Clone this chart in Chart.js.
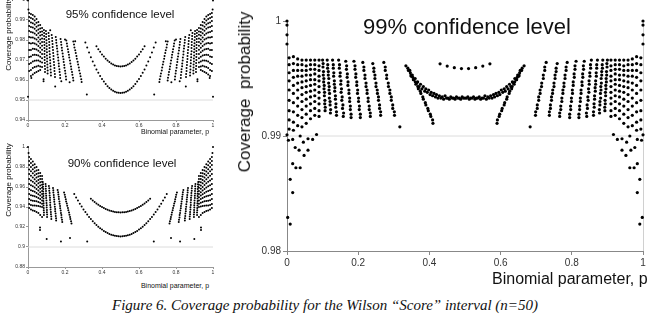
<!DOCTYPE html>
<html>
<head>
<meta charset="utf-8">
<script src="https://cdn.jsdelivr.net/npm/chart.js@4.4.1/dist/chart.umd.min.js"></script>
<style>
  body { margin: 0; background: #fff; }
  #page { position: relative; width: 649px; height: 318px; overflow: hidden; font-family: "Liberation Sans", Arial, sans-serif; color: #111; }
  canvas { position: absolute; }
  .lbl { position: absolute; white-space: nowrap; transform: translate(-50%, -50%); color: #111; }
  .lft { transform: translate(0, -50%); }
  .rot { transform: translate(-50%, -50%) rotate(-90deg); }
  .cap { font-family: "Liberation Serif", "Times New Roman", serif; font-style: italic; }
</style>
</head>
<body>
<div id="page">
  <canvas id="c95" width="218" height="138" style="left:0;top:-6px"></canvas>
  <canvas id="c90" width="218" height="140" style="left:0;top:141px"></canvas>
  <canvas id="c99" width="421" height="275" style="left:228px;top:0"></canvas>

  <div class="lbl" style="left:120px;top:14px;font-size:11.5px">95% confidence level</div>
  <div class="lbl" style="left:122px;top:163px;font-size:11.5px">90% confidence level</div>
  <div class="lbl" style="left:467px;top:27px;font-size:22px">99% confidence level</div>

  <div class="lbl rot" style="left:8px;top:34px;font-size:8px">Coverage probability</div>
  <div class="lbl rot" style="left:8px;top:180px;font-size:8px">Coverage probability</div>
  <div class="lbl rot" style="left:245px;top:92px;font-size:17px">Coverage&nbsp; probability</div>

  <div class="lbl" style="left:175px;top:131px;font-size:7px">Binomial parameter, p</div>
  <div class="lbl" style="left:175px;top:285px;font-size:7px">Binomial parameter, p</div>
  <div class="lbl lft" style="left:492px;top:279px;font-size:16px">Binomial parameter, p</div>

  <div class="lbl cap" style="left:325px;top:305px;font-size:15px">Figure 6. Coverage probability for the Wilson “Score” interval (n=50)</div>
</div>

<script>
// ---------- 99% confidence level ----------
const nominal99 = 0.99;
const edge99L = [[0,1],[0,.99965],[0,.9988],[0,.998],[0,.9901],[.002,.98292],[.009,.98234],[.009,.98623],[.016,.98508],[.016,.98759],[.025,.98724],[.037,.98724],[.004,.98963],[.016,.9897],[.023,.989],[.034,.98877],[.046,.98946],[.048,.98831],[.059,.98877],[.059,.98976],[.072,.9897],[.083,.99013],[.037,.99]];
const edge99R = [[1,1],[1,.99965],[1,.9988],[1,.998],[1,.9901],[.998,.98292],[.991,.98234],[.991,.98623],[.984,.98508],[.984,.98759],[.975,.98724],[.963,.98724],[.996,.98963],[.984,.9897],[.977,.989],[.966,.98877],[.954,.98946],[.952,.98831],[.941,.98877],[.941,.98976],[.928,.9897],[.917,.99013],[.963,.99]];

const cloudP99L = [.006,.018,.030,.042,.054,.066,.078,.090];
const cloudP99R = [.994,.982,.970,.958,.946,.934,.922,.910];
const cloudC99 = [
  [.9968,.9962,.9955,.9948,.9940,.9931,.9922,.9914,.9906],
  [.9969,.9963,.9957,.9951,.9944,.9937,.9929,.9921,.9912,.9905],
  [.9967,.9962,.9957,.9952,.9946,.9940,.9933,.9926,.9918,.9909],
  [.9966,.9962,.9957,.9952,.9947,.9942,.9936,.9930,.9923,.9916,.9908],
  [.9966,.9961,.9957,.9953,.9948,.9943,.9938,.9932,.9926,.9919,.9911],
  [.9966,.9962,.9958,.9953,.9949,.9944,.9939,.9934,.9928,.9922,.9915],
  [.9966,.9962,.9958,.9954,.9949,.9945,.9940,.9935,.9930,.9924,.9918],
  [.9966,.9961,.9957,.9952,.9948,.9943,.9938,.9933,.9928,.9922,.9917]
];

const strP99L = [
  .100,.101,.102,.103,.104,.105,.106,.107,
  .113,.114,.116,.117,.118,.119,.121,.122,
  .128,.130,.131,.133,.134,.136,.137,.139,
  .145,.147,.149,.151,.152,.154,.156,.158,
  .165,.167,.169,.171,.174,.176,.178,.180,
  .188,.191,.193,.196,.198,.201,.203,.206,
  .213,.216,.219,.222,.225,.228,.231,.234,
  .241,.244,.247,.250,.254,.257,.260,.263,
  .272,.276,.280,.285,.289,.293,.297,.302,.317,
  .334,.341,.348,.355,.362,.369,.376,.383,.390,.397,.404,.410
];
const strP99R = [
  .900,.899,.898,.897,.896,.895,.894,.893,
  .887,.886,.884,.883,.882,.881,.879,.878,
  .872,.870,.869,.867,.866,.864,.863,.861,
  .855,.853,.851,.849,.848,.846,.844,.842,
  .835,.833,.831,.829,.826,.824,.822,.820,
  .812,.809,.807,.804,.802,.799,.797,.794,
  .787,.784,.781,.778,.775,.772,.769,.766,
  .759,.756,.753,.750,.746,.743,.740,.737,
  .728,.724,.720,.715,.711,.707,.703,.698,.683,
  .666,.659,.652,.645,.638,.631,.624,.617,.610,.603,.596,.590
];
const strC99 = [
  .9966,.9960,.9953,.9947,.9941,.9935,.9928,.9922,
  .9966,.9959,.9953,.9946,.9940,.9933,.9927,.9920,
  .9966,.9959,.9952,.9945,.9939,.9932,.9925,.9918,
  .9966,.9959,.9952,.9945,.9938,.9931,.9924,.9917,
  .9965,.9958,.9951,.9944,.9937,.9930,.9923,.9916,
  .9965,.9958,.9951,.9944,.9937,.9930,.9923,.9916,
  .9964,.9957,.9950,.9943,.9937,.9930,.9923,.9917,
  .9963,.9956,.9950,.9943,.9937,.9931,.9924,.9918,
  .9964,.9957,.9950,.9943,.9937,.9931,.9924,.9918,.9908,
  .9961,.9957,.9953,.9949,.9945,.9941,.9937,.9932,.9927,.9922,.9917,.9911
];
// second row of dots that thickens each streak
const strBP99L = [
  .1015,.1025,.1035,.1045,.1055,.1065,.1075,
  .1145,.1160,.1175,.1185,.1195,.1210,.1225,
  .1300,.1315,.1330,.1345,.1360,.1375,.1390,
  .1475,.1495,.1515,.1530,.1550,.1570,.1590,
  .1675,.1695,.1715,.1740,.1760,.1780,.1800,
  .1910,.1935,.1960,.1985,.2010,.2035,.2060,
  .2160,.2190,.2220,.2250,.2280,.2310,.2340,
  .2440,.2470,.2500,.2535,.2570,.2600,.2630,
  .2760,.2800,.2845,.2890,.2930,.2970,.3015,
  .3395,.3465,.3535,.3605,.3675,.3745,.3815,.3885,.3955,.4025,.4090
];
const strBP99R = [
  .8985,.8975,.8965,.8955,.8945,.8935,.8925,
  .8855,.8840,.8825,.8815,.8805,.8790,.8775,
  .8700,.8685,.8670,.8655,.8640,.8625,.8610,
  .8525,.8505,.8485,.8470,.8450,.8430,.8410,
  .8325,.8305,.8285,.8260,.8240,.8220,.8200,
  .8090,.8065,.8040,.8015,.7990,.7965,.7940,
  .7840,.7810,.7780,.7750,.7720,.7690,.7660,
  .7560,.7530,.7500,.7465,.7430,.7400,.7370,
  .7240,.7200,.7155,.7110,.7070,.7030,.6985,
  .6605,.6535,.6465,.6395,.6325,.6255,.6185,.6115,.6045,.5975,.5910
];
const strBC99 = [
  .9963,.9956,.9950,.9944,.9938,.9931,.9925,
  .9962,.9956,.9950,.9943,.9937,.9930,.9923,
  .9962,.9955,.9948,.9942,.9935,.9928,.9921,
  .9962,.9955,.9948,.9941,.9934,.9927,.9920,
  .9961,.9954,.9947,.9940,.9933,.9926,.9919,
  .9961,.9954,.9947,.9940,.9933,.9926,.9919,
  .9960,.9953,.9946,.9940,.9933,.9926,.9920,
  .9959,.9953,.9946,.9940,.9934,.9927,.9921,
  .9960,.9953,.9946,.9940,.9934,.9927,.9921,
  .9959,.9955,.9951,.9947,.9943,.9939,.9934,.9929,.9924,.9919,.9914
];

const midP99 = [.345,.352,.360,.367,.375,.383,.390,.398,.405,.413,.420,.428,.436,.444,.452,.460,.468,.476,.484,.492,.500,.508,.516,.524,.532,.540,.548,.556,.564,.572,.580,.587,.595,.602,.610,.617,.625,.633,.640,.648,.655];
const midC99 = [.9957,.9953,.9950,.9947,.9945,.9943,.9941,.9940,.9938,.9937,.9936,.9935,.9934,.9935,.9933,.9934,.9933,.9934,.9933,.9934,.9933,.9934,.9933,.9934,.9933,.9934,.9933,.9935,.9934,.9935,.9936,.9937,.9938,.9940,.9941,.9943,.9945,.9947,.9950,.9953,.9957];
const midBP99 = [.349,.356,.364,.371,.379,.387,.394,.402,.409,.417,.424,.432,.440,.448,.456,.464,.472,.480,.488,.496,.504,.512,.520,.528,.536,.544,.552,.560,.568,.576,.583,.591,.598,.606,.613,.621,.629,.636,.644,.651];
const midBC99 = [.9952,.9949,.9946,.9943,.9941,.9939,.9938,.9936,.9935,.9934,.9933,.9933,.9932,.9933,.9932,.9933,.9932,.9933,.9932,.9933,.9933,.9932,.9933,.9932,.9933,.9932,.9933,.9932,.9933,.9933,.9934,.9935,.9936,.9938,.9939,.9941,.9943,.9946,.9949,.9952];
const topP99 = [.43,.45,.47,.49,.51,.53,.55,.57];
const topC99 = [.99628,.99608,.99594,.99586,.99586,.99594,.99608,.99628];

// ---------- 95% confidence level ----------
const nominal95 = 0.95;
const edge95L = [[0,.9998],[.002,.9952],[0,.9516],[.018,.961],[.084,.9594],[.084,.9604],[.147,.9567],[.18,.9594],[.225,.9589],[.318,.9528],[.12,.9849],[.2,.9803],[.255,.9794]];
const edge95R = [[1,.9998],[.998,.9952],[1,.9516],[.982,.961],[.916,.9594],[.916,.9604],[.853,.9567],[.82,.9594],[.775,.9589],[.682,.9528],[.88,.9849],[.8,.9803],[.745,.9794]];
const cloudP95L = [.006,.016,.026,.036,.046,.056,.066,.076];
const cloudP95R = [.994,.984,.974,.964,.954,.944,.934,.924];
const cloudC95 = [
  [.9935,.9915,.9895,.9870,.9845,.9815,.9785,.9750,.9715,.9680,.9645],
  [.9930,.9910,.9888,.9865,.9840,.9812,.9782,.9750,.9718,.9685,.9650,.9620],
  [.9925,.9905,.9884,.9862,.9838,.9812,.9785,.9756,.9725,.9693,.9660,.9628],
  [.9918,.9898,.9878,.9856,.9833,.9808,.9782,.9755,.9726,.9696,.9665,.9635],
  [.9905,.9886,.9866,.9846,.9825,.9802,.9778,.9752,.9725,.9697,.9668,.9640],
  [.9890,.9872,.9853,.9834,.9813,.9792,.9770,.9746,.9722,.9697,.9671,.9645],
  [.9875,.9858,.9840,.9822,.9802,.9782,.9761,.9739,.9716,.9692,.9668,.9650],
  [.9860,.9843,.9826,.9808,.9790,.9771,.9751,.9730,.9709,.9687,.9665]
];
const strP95L = [
  .086,.087,.088,.089,.089,.090,.091,.092,
  .097,.098,.100,.101,.102,.103,.105,.106,
  .111,.113,.115,.116,.118,.120,.122,.124,
  .128,.131,.133,.136,.138,.141,.143,.146,
  .150,.153,.157,.160,.164,.167,.171,.174,
  .176,.180,.184,.189,.193,.197,.202,.206,
  .207,.212,.218,.223,.229,.234,.240,.245,
  .245,.251,.258,.264,.271,.277,.284,.290
];
const strP95R = [
  .914,.913,.912,.911,.911,.910,.909,.908,
  .903,.902,.900,.899,.898,.897,.895,.894,
  .889,.887,.885,.884,.882,.880,.878,.876,
  .872,.869,.867,.864,.862,.859,.857,.854,
  .850,.847,.843,.840,.836,.833,.829,.826,
  .824,.820,.816,.811,.807,.803,.798,.794,
  .793,.788,.782,.777,.771,.766,.760,.755,
  .755,.749,.742,.736,.729,.723,.716,.710
];
const strC95 = [
  .9850,.9820,.9790,.9760,.9730,.9700,.9670,.9640,
  .9845,.9815,.9784,.9754,.9723,.9693,.9662,.9632,
  .9835,.9805,.9775,.9744,.9714,.9684,.9653,.9622,
  .9825,.9795,.9765,.9735,.9705,.9675,.9645,.9615,
  .9815,.9786,.9757,.9727,.9698,.9669,.9640,.9610,
  .9805,.9776,.9747,.9718,.9690,.9661,.9632,.9603,
  .9798,.9769,.9740,.9712,.9683,.9654,.9626,.9597,
  .9792,.9763,.9735,.9706,.9677,.9648,.9619,.9590
];
const strBP95L = [
  .0873,.0883,.0893,.0898,.0903,.0913,.0923,
  .0983,.0998,.1013,.1023,.1033,.1048,.1063,
  .1128,.1148,.1163,.1178,.1198,.1218,.1238,
  .1303,.1328,.1353,.1378,.1403,.1428,.1453,
  .1523,.1558,.1593,.1628,.1663,.1698,.1733,
  .1788,.1828,.1873,.1918,.1958,.2003,.2048,
  .2103,.2158,.2213,.2268,.2323,.2378,.2433,
  .2488,.2553,.2618,.2683,.2748,.2813,.2878
];
const strBP95R = [
  .9127,.9117,.9107,.9102,.9097,.9087,.9077,
  .9017,.9002,.8987,.8977,.8967,.8952,.8937,
  .8872,.8852,.8837,.8822,.8802,.8782,.8762,
  .8697,.8672,.8647,.8622,.8597,.8572,.8547,
  .8477,.8442,.8407,.8372,.8337,.8302,.8267,
  .8212,.8172,.8127,.8082,.8042,.7997,.7952,
  .7897,.7842,.7787,.7732,.7677,.7622,.7567,
  .7512,.7447,.7382,.7317,.7252,.7187,.7122
];
const strBC95 = [
  .9835,.9805,.9775,.9745,.9715,.9685,.9655,
  .9830,.9799,.9769,.9739,.9708,.9678,.9647,
  .9820,.9790,.9760,.9729,.9699,.9669,.9638,
  .9810,.9780,.9750,.9720,.9690,.9660,.9630,
  .9800,.9771,.9742,.9712,.9683,.9654,.9625,
  .9790,.9761,.9732,.9704,.9675,.9646,.9617,
  .9783,.9754,.9726,.9697,.9668,.9640,.9611,
  .9777,.9749,.9720,.9691,.9662,.9633,.9604
];
const lowP95 = [.31,.32,.33,.34,.35,.36,.37,.38,.39,.40,.41,.42,.43,.44,.45,.46,.47,.48,.49,.50,.51,.52,.53,.54,.55,.56,.57,.58,.59,.60,.61,.62,.63,.64,.65,.66,.67,.68,.69];
const lowC95 = [.9788,.9762,.9737,.9714,.9693,.9672,.9653,.9636,.9620,.9605,.9592,.9580,.9569,.9560,.9553,.9546,.9541,.9538,.9536,.9535,.9536,.9538,.9541,.9546,.9553,.9560,.9569,.9580,.9592,.9605,.9620,.9636,.9653,.9672,.9693,.9714,.9737,.9762,.9788];
const upP95 = [.37,.38,.39,.40,.41,.42,.43,.44,.45,.46,.47,.48,.49,.50,.51,.52,.53,.54,.55,.56,.57,.58,.59,.60,.61,.62,.63];
const upC95 = [.9769,.9754,.9741,.9728,.9717,.9706,.9697,.9690,.9683,.9678,.9673,.9670,.9669,.9668,.9669,.9670,.9673,.9678,.9683,.9690,.9697,.9706,.9717,.9728,.9741,.9754,.9769];

// ---------- 90% confidence level ----------
const nominal90 = 0.90;
const edge90L = [[0,1],[.003,.994],[.065,.917],[.065,.9195],[.101,.908],[.178,.9056],[.227,.909],[.32,.9056]];
const edge90R = [[1,1],[.997,.994],[.935,.917],[.935,.9195],[.899,.908],[.822,.9056],[.773,.909],[.68,.9056]];
const cloudP90L = [.006,.016,.026,.036,.046,.056,.066,.076];
const cloudP90R = [.994,.984,.974,.964,.954,.944,.934,.924];
const cloudC90 = [
  [.9900,.9860,.9820,.9775,.9730,.9680,.9630,.9580,.9530,.9480,.9430,.9390],
  [.9880,.9840,.9800,.9757,.9712,.9665,.9617,.9568,.9518,.9468,.9420,.9375],
  [.9855,.9817,.9778,.9738,.9696,.9652,.9607,.9560,.9512,.9463,.9415,.9365],
  [.9828,.9792,.9755,.9717,.9678,.9637,.9595,.9552,.9507,.9461,.9414,.9360],
  [.9800,.9766,.9731,.9695,.9658,.9620,.9581,.9541,.9500,.9457,.9413,.9350],
  [.9770,.9738,.9705,.9671,.9637,.9601,.9565,.9528,.9490,.9451,.9411,.9340],
  [.9740,.9710,.9679,.9647,.9615,.9582,.9548,.9514,.9479,.9443,.9405,.9320],
  [.9710,.9681,.9652,.9622,.9592,.9561,.9530,.9498,.9466,.9433,.9400,.9300]
];
const strP90L = [
  .080,.081,.082,.083,.083,.084,.085,.086,
  .095,.096,.097,.098,.100,.101,.102,.103,
  .113,.115,.117,.119,.120,.122,.124,.126,
  .135,.137,.140,.142,.145,.147,.150,.152,
  .160,.164,.167,.171,.174,.178,.181,.185,
  .195,.201,.206,.212,.218,.224,.229,.235
];
const strP90R = [
  .920,.919,.918,.917,.917,.916,.915,.914,
  .905,.904,.903,.902,.900,.899,.898,.897,
  .887,.885,.883,.881,.880,.878,.876,.874,
  .865,.863,.860,.858,.855,.853,.850,.848,
  .840,.836,.833,.829,.826,.822,.819,.815,
  .805,.799,.794,.788,.782,.776,.771,.765
];
const strC90 = [
  .9650,.9603,.9556,.9509,.9461,.9414,.9367,.9320,
  .9630,.9583,.9536,.9489,.9441,.9394,.9347,.9300,
  .9610,.9563,.9516,.9469,.9421,.9374,.9327,.9280,
  .9590,.9544,.9498,.9452,.9403,.9357,.9311,.9265,
  .9570,.9524,.9479,.9433,.9387,.9341,.9296,.9250,
  .9545,.9500,.9456,.9412,.9368,.9323,.9279,.9235
];
const strBP90L = [
  .0813,.0823,.0833,.0838,.0843,.0853,.0863,
  .0963,.0973,.0983,.0998,.1013,.1023,.1033,
  .1148,.1168,.1188,.1203,.1218,.1238,.1258,
  .1368,.1393,.1418,.1443,.1468,.1493,.1518,
  .1628,.1663,.1698,.1733,.1768,.1803,.1838,
  .1988,.2043,.2098,.2158,.2218,.2273,.2328
];
const strBP90R = [
  .9187,.9177,.9167,.9162,.9157,.9147,.9137,
  .9037,.9027,.9017,.9002,.8987,.8977,.8967,
  .8852,.8832,.8812,.8797,.8782,.8762,.8742,
  .8632,.8607,.8582,.8557,.8532,.8507,.8482,
  .8372,.8337,.8302,.8267,.8232,.8197,.8162,
  .8012,.7957,.7902,.7842,.7782,.7727,.7672
];
const strBC90 = [
  .9627,.9580,.9533,.9485,.9438,.9391,.9344,
  .9607,.9560,.9513,.9465,.9418,.9371,.9324,
  .9587,.9540,.9493,.9445,.9398,.9351,.9304,
  .9567,.9521,.9475,.9428,.9380,.9334,.9288,
  .9547,.9502,.9456,.9410,.9364,.9319,.9273,
  .9523,.9478,.9434,.9390,.9346,.9301,.9257
];
const lowP90 = [.25,.26,.27,.28,.29,.30,.31,.32,.33,.34,.35,.36,.37,.38,.39,.40,.41,.42,.43,.44,.45,.46,.47,.48,.49,.50,.51,.52,.53,.54,.55,.56,.57,.58,.59,.60,.61,.62,.63,.64,.65,.66,.67,.68,.69,.70,.71,.72,.73,.74,.75];
const lowC90 = [.9529,.9495,.9464,.9433,.9404,.9376,.9350,.9325,.9301,.9279,.9258,.9238,.9220,.9203,.9188,.9174,.9161,.9149,.9139,.9130,.9123,.9117,.9112,.9109,.9107,.9106,.9107,.9109,.9112,.9117,.9123,.9130,.9139,.9149,.9161,.9174,.9188,.9203,.9220,.9238,.9258,.9279,.9301,.9325,.9350,.9376,.9404,.9433,.9464,.9495,.9529];
const upP90 = [.34,.35,.36,.37,.38,.39,.40,.41,.42,.43,.44,.45,.46,.47,.48,.49,.50,.51,.52,.53,.54,.55,.56,.57,.58,.59,.60,.61,.62,.63,.64,.65,.66];
const upC90 = [.9482,.9465,.9450,.9436,.9422,.9410,.9399,.9389,.9380,.9372,.9365,.9359,.9355,.9351,.9348,.9347,.9346,.9347,.9348,.9351,.9355,.9359,.9365,.9372,.9380,.9389,.9399,.9410,.9422,.9436,.9450,.9465,.9482];

// ---------- helpers ----------
const pts = (ps, cs) => ps.map((p, i) => ({ x: p, y: cs[i] }));
const pairPts = arr => arr.map(([p, c]) => ({ x: p, y: c }));
const cloudPts = (ps, cols) => {
  const out = [];
  ps.forEach((p, i) => cols[i].forEach(c => out.push({ x: p, y: c })));
  return out;
};

function dots(data, r) {
  return { type: 'scatter', data, pointRadius: r, pointHoverRadius: r, backgroundColor: '#000', borderWidth: 0, clip: 4, order: 1 };
}
function refLine(y) {
  return { type: 'line', data: [{ x: 0, y }, { x: 1, y }], borderColor: '#dcdcdc', borderWidth: 1, pointRadius: 0, order: 5 };
}

// light frame line on the right side of the big chart
const rightEdge = {
  id: 'rightEdge',
  beforeDatasetsDraw(chart, args, opts) {
    if (!opts.show) return;
    const { ctx, chartArea: a } = chart;
    ctx.save();
    ctx.strokeStyle = '#d0d0d0';
    ctx.lineWidth = 1;
    ctx.beginPath();
    ctx.moveTo(a.right + 0.5, a.top);
    ctx.lineTo(a.right + 0.5, a.bottom);
    ctx.stroke();
    ctx.restore();
  }
};

function makeChart(id, datasets, o) {
  return new Chart(document.getElementById(id), {
    type: 'scatter',
    data: { datasets },
    plugins: [rightEdge],
    options: {
      responsive: false,
      animation: false,
      devicePixelRatio: 1,
      layout: { padding: o.pad },
      plugins: { legend: { display: false }, tooltip: { enabled: false }, rightEdge: { show: !!o.edge } },
      scales: {
        x: {
          type: 'linear', min: 0, max: 1,
          ticks: { stepSize: 0.2, font: { size: o.fs, family: 'Liberation Sans' }, color: '#333', padding: o.tp, maxRotation: 0,
                   callback: v => String(+v.toFixed(1)) },
          grid: { drawOnChartArea: false, tickLength: o.tl, color: o.axis },
          border: { color: o.axis },
          afterFit: s => { s.height = o.xh; }
        },
        y: {
          min: o.ymin, max: 1,
          ticks: { stepSize: o.step, font: { size: o.fs, family: 'Liberation Sans' }, color: '#333', padding: o.tp,
                   callback: v => String(+v.toFixed(2)) },
          grid: { drawOnChartArea: false, tickLength: o.tl, color: o.axis },
          border: { color: o.axis },
          afterFit: s => { s.width = o.yw; }
        }
      }
    }
  });
}

// 95%
makeChart('c95', [
  refLine(nominal95),
  dots(pairPts(edge95L), 1), dots(pairPts(edge95R), 1),
  dots(cloudPts(cloudP95L, cloudC95), 1), dots(cloudPts(cloudP95R, cloudC95), 1),
  dots(pts(strP95L, strC95), 1), dots(pts(strP95R, strC95), 1),
  dots(pts(strBP95L, strBC95), 1), dots(pts(strBP95R, strBC95), 1),
  dots(pts(lowP95, lowC95), 1), dots(pts(upP95, upC95), 1)
], { pad: { top: 6, right: 5, left: 0, bottom: 0 }, ymin: 0.94, step: 0.01, fs: 5, tp: 1, tl: 2, xh: 12, yw: 28, axis: '#999' });

// 90%
makeChart('c90', [
  refLine(nominal90),
  dots(pairPts(edge90L), 1), dots(pairPts(edge90R), 1),
  dots(cloudPts(cloudP90L, cloudC90), 1), dots(cloudPts(cloudP90R, cloudC90), 1),
  dots(pts(strP90L, strC90), 1), dots(pts(strP90R, strC90), 1),
  dots(pts(strBP90L, strBC90), 1), dots(pts(strBP90R, strBC90), 1),
  dots(pts(lowP90, lowC90), 1), dots(pts(upP90, upC90), 1)
], { pad: { top: 6, right: 5, left: 0, bottom: 0 }, ymin: 0.88, step: 0.02, fs: 5, tp: 1, tl: 2, xh: 14, yw: 28, axis: '#999' });

// 99%
makeChart('c99', [
  refLine(nominal99),
  dots(pairPts(edge99L), 1.6), dots(pairPts(edge99R), 1.6),
  dots(cloudPts(cloudP99L, cloudC99), 1.6), dots(cloudPts(cloudP99R, cloudC99), 1.6),
  dots(pts(strP99L, strC99), 1.6), dots(pts(strP99R, strC99), 1.6),
  dots(pts(strBP99L, strBC99), 1.6), dots(pts(strBP99R, strBC99), 1.6),
  dots(pts(midP99, midC99), 1.6), dots(pts(midBP99, midBC99), 1.6),
  dots(pts(topP99, topC99), 1.6)
], { pad: { top: 21, right: 6, left: 0, bottom: 0 }, ymin: 0.98, step: 0.01, fs: 10, tp: 2, tl: 4, xh: 24, yw: 59, axis: '#888', edge: true });
</script>
</body>
</html>
